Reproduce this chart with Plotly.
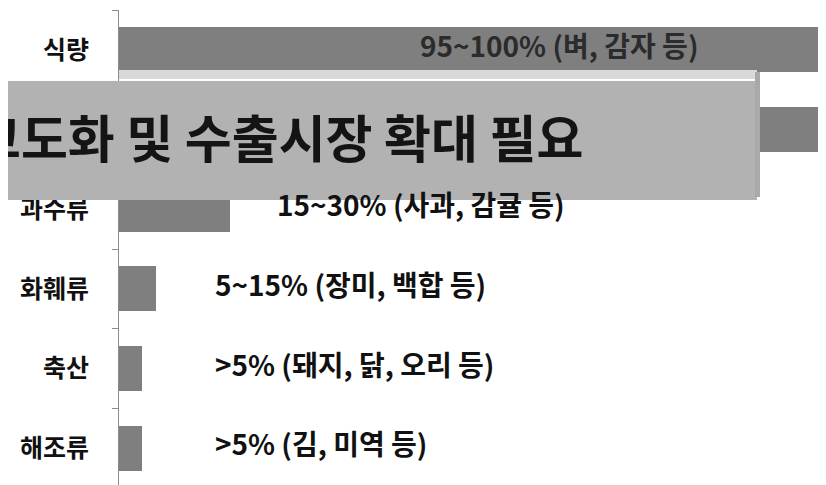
import plotly.graph_objects as go

categories = ["식량", "채소류", "과수류", "화훼류", "축산", "해조류"]
tick_labels = ["식량", "", "과수류", "화훼류", "축산", "해조류"]
bar_values = [100, 100, 15.7, 5.2, 3.3, 3.3]
bar_labels = ["95~100% (벼, 감자 등)", "", "15~30% (사과, 감귤 등)",
              "5~15% (장미, 백합 등)", ">5% (돼지, 닭, 오리 등)", ">5% (김, 미역 등)"]
label_x = [42.3, 0, 22.1, 13.3, 13.3, 13.3]
banner_text = "고도화 및 수출시장 확대 필요"

# page body adds an 8px offset; size the figure to fit the window
OFF = 8
WIN_W, WIN_H = 826, 485
L, T = 119, 10          # plot area left/top in window pixels
PW, PH = WIN_W - L, WIN_H - T

def px(x):
    return (x - L) / PW

def py(y):
    return 1 - (y - T) / PH

FONT = "Noto Sans CJK KR"

fig = go.Figure()
fig.add_trace(go.Bar(
    y=categories, x=bar_values, orientation="h", width=0.565,
    marker=dict(color="#7f7f7f", line=dict(width=0)),
    hoverinfo="skip", showlegend=False,
))

annotations = []
for i, (cat, txt, lx) in enumerate(zip(categories, bar_labels, label_x)):
    if not txt:
        continue
    annotations.append(dict(
        x=lx, y=cat, xref="x", yref="y", text=txt, showarrow=False,
        xanchor="left", yanchor="middle", yshift=5,
        font=dict(family=FONT, size=28, color="#2b2b2b" if i == 0 else "#111111", weight="bold"),
    ))

annotations.append(dict(
    x=px(585), y=py(136), xref="paper", yref="paper", text=banner_text,
    showarrow=False, xanchor="right", yanchor="middle",
    font=dict(family=FONT, size=51, color="#141414", weight="bold"),
))

shapes = [
    dict(type="rect", xref="paper", yref="paper", x0=0, x1=px(757), y0=py(79), y1=py(70),
         fillcolor="#d9d9d9", line=dict(width=0), layer="above"),
    dict(type="rect", xref="paper", yref="paper", x0=px(-40), x1=px(757), y0=py(200), y1=py(81),
         fillcolor="#b2b2b2", line=dict(width=0), layer="above"),
    dict(type="rect", xref="paper", yref="paper", x0=px(755), x1=px(760), y0=py(197), y1=py(72),
         fillcolor="#a9a9a9", line=dict(width=0), layer="above"),
]

fig.update_layout(
    width=WIN_W - OFF, height=WIN_H - OFF,
    margin=dict(l=L - OFF, r=0, t=T - OFF, b=0, pad=0),
    paper_bgcolor="white", plot_bgcolor="white",
    xaxis=dict(visible=False, range=[0, 100], fixedrange=True),
    yaxis=dict(
        type="category", categoryorder="array", categoryarray=categories,
        tickmode="array", tickvals=categories, ticktext=tick_labels,
        range=[5.46, -0.5],
        showline=True, linecolor="#8c8c8c", linewidth=1,
        ticks="outside", ticklen=6, tickcolor="#8c8c8c", tickwidth=1,
        tickson="boundaries", showgrid=False, zeroline=False,
        ticklabelstandoff=24,
        tickfont=dict(family=FONT, size=25, color="#111111", weight="bold"),
    ),
    annotations=annotations,
    shapes=shapes,
    bargap=0,
)

fig.write_html("out.html")
